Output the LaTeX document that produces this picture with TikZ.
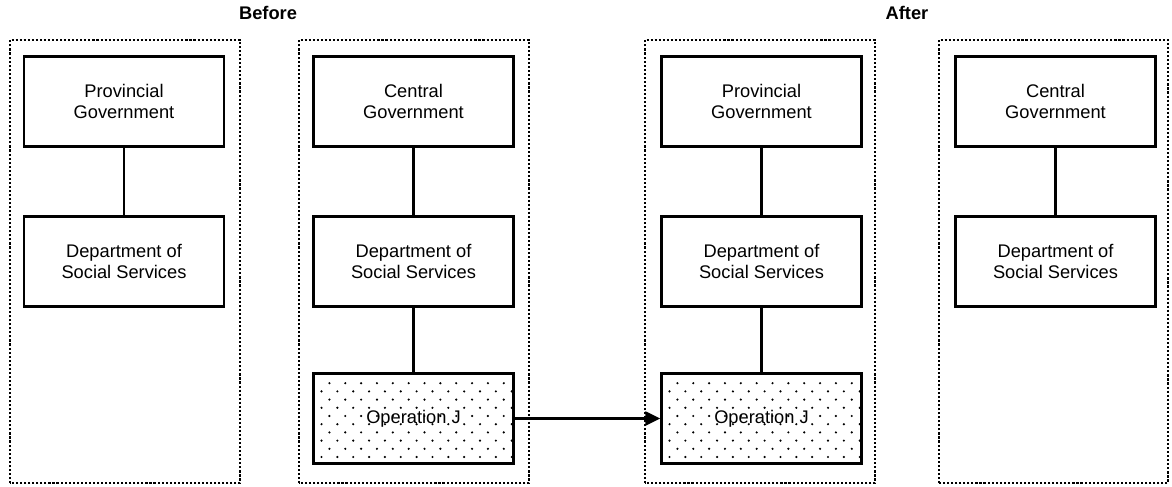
\documentclass[tikz,border=0pt]{standalone}
\usepackage{fontspec}
\setmainfont{Liberation Sans}
\usetikzlibrary{arrows.meta,positioning}

\begin{document}
\begin{tikzpicture}[
		font=\fontsize{10.4}{12}\selectfont,
		unit/.style={draw, line width=1.35pt, minimum width=4cm, minimum height=1.8cm, align=center, inner sep=0pt},
		frame/.style={line width=1.2pt, dash pattern=on 1.2pt off 1.1pt},
		link/.style={line width=1.35pt},
		title/.style={font=\fontsize{10.4}{12}\selectfont\bfseries}
	]
	\useasboundingbox (0,0) rectangle (23.44,9.72);
	
	% Dotted column frames
	\draw[frame] (0.2,0.06) rectangle (4.8,8.92);
	\draw[frame] (5.98,0.06) rectangle (10.58,8.92);
	\draw[frame] (12.9,0.06) rectangle (17.5,8.92);
	\draw[frame] (18.78,0.06) rectangle (23.36,8.92);
	
	% Headings
	\node[title] (before) at (5.36,9.46) {Before};
	\node[title] (after) at (18.14,9.46) {After};
	
	% Dot fill of the two Operation J boxes
	\foreach \bx in {6.26,13.22} {
		\begin{scope}
			\clip (\bx,0.46) rectangle ++(4.02,1.78);
			\foreach \i in {0,...,9}
				\foreach \j in {0,...,12}
					\fill ({\bx+0.17+\j*0.317+mod(\i,2)*0.158},{0.58+\i*0.164}) circle (0.024);
		\end{scope}
	}
	
	% Before: provincial side
	\node[unit] (prov1) at (2.48,7.69) {Provincial\\Government};
	\node[unit] (dss1) at (2.48,4.49) {Department of\\Social Services};
	\draw[link] (prov1) -- (dss1);
	
	% Before: central side
	\node[unit] (cen2) at (8.27,7.69) {Central\\Government};
	\node[unit] (dss2) at (8.27,4.49) {Department of\\Social Services};
	\node[unit] (opj2) at (8.27,1.35) {Operation J};
	\draw[link] (cen2) -- (dss2);
	\draw[link] (dss2) -- (opj2);
	
	% After: provincial side
	\node[unit] (prov3) at (15.23,7.69) {Provincial\\Government};
	\node[unit] (dss3) at (15.23,4.49) {Department of\\Social Services};
	\node[unit] (opj3) at (15.23,1.35) {Operation J};
	\draw[link] (prov3) -- (dss3);
	\draw[link] (dss3) -- (opj3);
	
	% After: central side
	\node[unit] (cen4) at (21.11,7.69) {Central\\Government};
	\node[unit] (dss4) at (21.11,4.49) {Department of\\Social Services};
	\draw[link] (cen4) -- (dss4);
	
	% Transfer
	\draw[link, -{Triangle[length=0.3cm, width=0.28cm]}] (opj2) -- (opj3);
\end{tikzpicture}
\end{document}
